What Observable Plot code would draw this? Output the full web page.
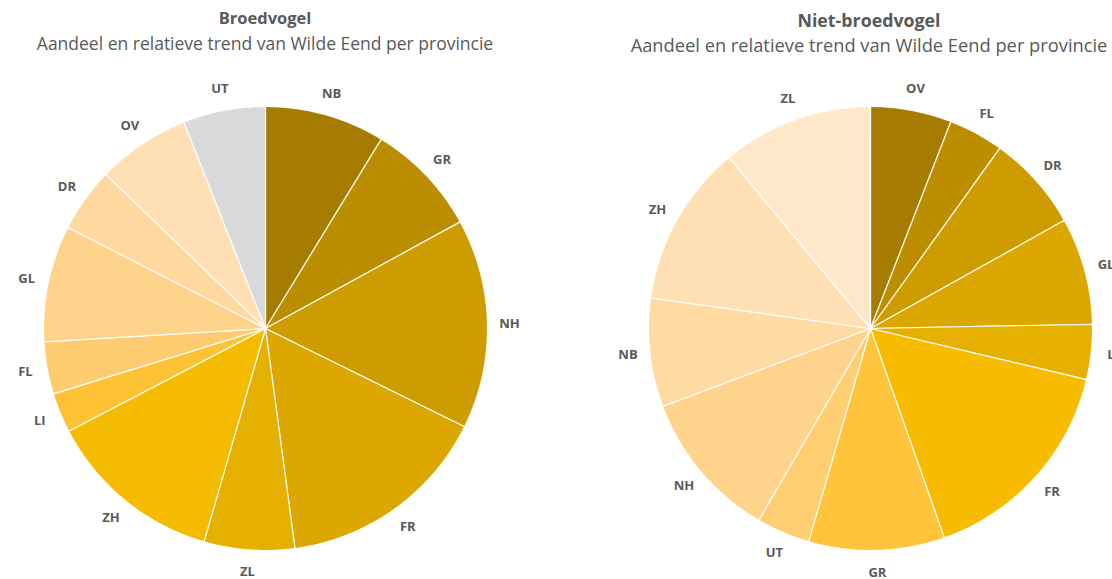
<!DOCTYPE html>
<html><head><meta charset="utf-8">
<script src="https://cdn.jsdelivr.net/npm/d3@7"></script>
<script src="https://cdn.jsdelivr.net/npm/@observablehq/plot@0.6"></script>
<style>
body{margin:0;background:#fff;width:1112px;height:579px;overflow:hidden;position:relative;font-family:"Open Sans",sans-serif;color:#595959;}
.t{position:absolute;width:556px;text-align:center;white-space:nowrap;}
.title{font-weight:bold;font-size:16.5px;line-height:20px;}
.sub{font-size:17.5px;line-height:22px;}
.chart{position:absolute;top:60px;}
.chart svg{max-width:none;}
</style></head><body>
<div class="t title" style="left:-13px;top:8px">Broedvogel</div>
<div class="t sub" style="left:-13px;top:32px">Aandeel en relatieve trend van Wilde Eend per provincie</div>
<div class="t title" style="left:591px;top:10px;font-size:17.8px">Niet-broedvogel</div>
<div class="t sub" style="left:591px;top:34px;font-size:18.3px">Aandeel en relatieve trend van Wilde Eend per provincie</div>
<div id="left" class="chart" style="left:0px"></div>
<div id="right" class="chart" style="left:556px"></div>
<script>
// Broedvogel (breeding) – share per province (%)
const broedProv = ["NB","GR","NH","FR","ZL","ZH","LI","FL","GL","DR","OV","UT"];
const broedShare = [8.75, 8.3, 15.3, 15.6, 6.6, 12.9, 2.9, 3.8, 8.5, 4.7, 6.8, 6.0];
const broedColors = ["#A67C00","#BB8D00","#CC9C00","#DBA700","#E6B000","#F5BB00","#FCC233","#FDCC70","#FED28A","#FED89E","#FFE0B4","#D9D9D9"];

// Niet-broedvogel (non-breeding) – share per province (%)
const nietProv = ["OV","FL","DR","GL","LI","FR","GR","UT","NH","NB","ZH","ZL"];
const nietShare = [5.9, 4.0, 7.0, 7.8, 4.0, 15.9, 9.9, 3.9, 10.9, 7.9, 11.8, 11.0];
const nietColors = ["#A67C00","#BD8D00","#CC9C00","#DBA700","#E6B000","#F7BC00","#FFC43C","#FFCE70","#FFD38C","#FFDAA3","#FFE0B4","#FFE7CA"];

const R = 222, RL = 244;

function build(names, values){
  const arcs = d3.pie().sort(null).value(d => d.v)(names.map((n,i)=>({n, v: values[i]})));
  const pts = [], labels = [];
  arcs.forEach(a => {
    const n = a.data.n;
    pts.push({n, x:0, y:0});
    const steps = Math.max(4, Math.ceil((a.endAngle - a.startAngle)/0.01));
    for (let k=0;k<=steps;k++){
      const t = a.startAngle + (a.endAngle - a.startAngle)*k/steps;
      pts.push({n, x: R*Math.sin(t), y: R*Math.cos(t)});
    }
    pts.push({n, x:0, y:0});
    const m = (a.startAngle + a.endAngle)/2;
    labels.push({n, x: RL*Math.sin(m), y: RL*Math.cos(m)});
  });
  return {pts, labels};
}

function pie(names, values, colors, xdom){
  const {pts, labels} = build(names, values);
  return Plot.plot({
    width: 556, height: 519,
    margin: 0,
    style: {fontFamily: "'Open Sans', sans-serif", background: "white", overflow: "hidden"},
    x: {domain: xdom, axis: null},
    y: {domain: [-251, 268], axis: null},
    color: {domain: names, range: colors},
    marks: [
      Plot.line(pts, {x:"x", y:"y", z:"n", fill:"n", stroke:"white", strokeWidth:1.2, strokeOpacity:0.9, curve:"linear"}),
      Plot.text(labels, {x:"x", y:"y", text:"n", fill:"#595959", fontWeight:"bold", fontSize:13})
    ]
  });
}

document.getElementById("left").append(pie(broedProv, broedShare, broedColors, [-265, 291]));
document.getElementById("right").append(pie(nietProv, nietShare, nietColors, [-314, 242]));
</script>
</body></html>
